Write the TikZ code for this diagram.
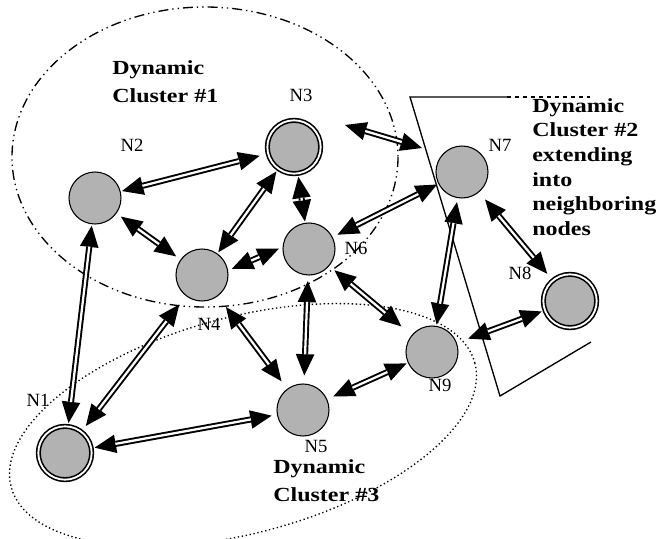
\documentclass[tikz,border=0pt]{standalone}
\usepackage{fontspec}
\setmainfont{Liberation Serif}
\newfontfamily\clusterfont[FakeStretch=1.2]{Liberation Serif}
\usepackage{xcolor}
\usepackage{tikz}
\usetikzlibrary{arrows.meta}
\definecolor{nodegray}{HTML}{B2B2B2}

\begin{document}
\begin{tikzpicture}[
    x=0.75pt, y=-0.75pt,
    every node/.style={font=\fontsize{14}{16}\selectfont},
    peer/.style={circle, draw, line width=0.8pt, fill=nodegray, minimum size=39pt, inner sep=0pt},
    clusterhead/.style={circle, draw, double=white, double distance=1.4pt, line width=1.2pt, fill=nodegray, minimum size=40pt, inner sep=0pt},
    link/.style 2 args={{Triangle[length=16pt,width=14pt,line width=0pt]}-{Triangle[length=16pt,width=14pt,line width=0pt]},
        line width=4.6pt, shorten <=#1, shorten >=#2,
        postaction={draw=white, line width=1.7pt, -, shorten <=#1+15.8pt, shorten >=#2+15.8pt}},
    cluster/.style={font=\clusterfont\bfseries\fontsize{15}{21}\selectfont, align=left, anchor=north west, inner sep=0pt}
]
\useasboundingbox (0,0) rectangle (657,539);

% cluster outlines
\draw[line width=1pt, dash pattern=on 7.5pt off 3pt on 1pt off 3pt on 1pt off 3pt]
    (205,157) ellipse [x radius=193, y radius=150];
\draw[line width=1pt, dotted, rotate around={15:(243,425)}]
    (243,425) ellipse [x radius=240, y radius=108];
\draw[line width=1pt] (507,97) -- (410,97) -- (500,396) -- (591,342);
\draw[line width=1pt, dashed] (507,97) -- (590,97);

% nodes
\node[clusterhead] (n1) at (65,453) {};
\node[peer] (n2) at (95,198) {};
\node[clusterhead] (n3) at (294,147) {};
\node[peer] (n4) at (202,275) {};
\node[peer] (n5) at (303,410) {};
\node[peer] (n6) at (309,249) {};
\node[peer] (n7) at (462,172) {};
\node[clusterhead] (n8) at (570,301) {};
\node[peer] (n9) at (432,352) {};

% links
\foreach \a/\b/\s/\e in {n1/n2/2pt/1pt, n1/n4/5pt/8pt, n1/n5/2pt/4pt,
    n2/n3/1pt/6pt, n2/n4/4pt/4pt, n3/n4/2pt/1pt, n3/n6/2pt/1pt,
    n4.10/n6.176/3pt/3pt, n4/n5/10pt/7pt, n6/n5/4pt/6pt,
    n6/n7/4pt/1pt, n6/n9/5pt/10pt, n5/n9/5pt/1pt, n7/n9/3pt/1pt,
    n7/n8/7pt/6pt, n8/n9/2pt/9pt} {
    \draw[link={\s}{\e}] (\a) -- (\b);
}
% the N3-N7 link stops short of both nodes
\coordinate (g3) at (345,125);
\coordinate (g7) at (422,148);
\draw[link={0pt}{0pt}] (g3) -- (g7);

% labels
\node (l1) at (38,400) {N1};
\node (l2) at (132,145) {N2};
\node (l3) at (301,95) {N3};
\node (l4) at (209,324) {N4};
\node (l5) at (316,446) {N5};
\node (l6) at (356,248) {N6};
\node (l7) at (500,145) {N7};
\node (l8) at (520,273) {N8};
\node (l9) at (440,385) {N9};

\node[cluster] (c1) at (112,60) {Dynamic\\Cluster \#1};
\node[cluster, font=\clusterfont\bfseries\fontsize{15}{18.5}\selectfont] (c2) at (532,98)
    {Dynamic\\Cluster \#2\\extending\\into\\neighboring\\nodes};
\node[cluster] (c3) at (273,459) {Dynamic\\Cluster \#3};
\end{tikzpicture}
\end{document}
